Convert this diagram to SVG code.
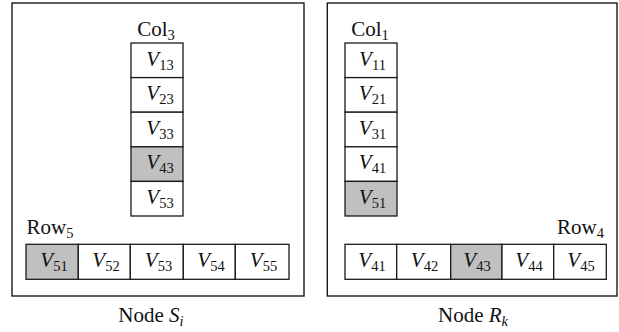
<svg xmlns="http://www.w3.org/2000/svg" width="619" height="332" viewBox="0 0 619 332" font-family="Liberation Serif, DejaVu Serif, serif">
  <style>
    .frame { fill: #fff; stroke: #1a1a1a; stroke-width: 1.4; }
    .cell { fill: #fff; stroke: #1a1a1a; stroke-width: 1.3; }
    .hit { fill: #c0c0c0; }
    .t { font-family: 'Liberation Serif', 'DejaVu Serif', serif; font-size: 21px; fill: #111; }
    .c { text-anchor: middle; }
    .e { text-anchor: end; }
    .v { font-style: italic; }
    .s { font-size: 14.5px; }
  </style>
  <rect width="619" height="332" fill="#fff"/>

  <!-- Node S_i -->
  <g id="node-s">
    <rect class="frame" x="12" y="3" width="292" height="293"/>
    <text class="t c" x="156" y="35.5">Col<tspan class="s" dy="4">3</tspan></text>
    <g id="s-col">
      <rect class="cell" x="131" y="43" width="52" height="34.6"/>
      <rect class="cell" x="131" y="77.6" width="52" height="34.6"/>
      <rect class="cell" x="131" y="112.2" width="52" height="34.6"/>
      <rect class="cell hit" x="131" y="146.8" width="52" height="34.6"/>
      <rect class="cell" x="131" y="181.4" width="52" height="34.6"/>
      <text class="t c" x="160" y="65.5"><tspan class="v">V</tspan><tspan class="s" dy="4">13</tspan></text>
      <text class="t c" x="160" y="100.1"><tspan class="v">V</tspan><tspan class="s" dy="4">23</tspan></text>
      <text class="t c" x="160" y="134.7"><tspan class="v">V</tspan><tspan class="s" dy="4">33</tspan></text>
      <text class="t c" x="160" y="169.3"><tspan class="v">V</tspan><tspan class="s" dy="4">43</tspan></text>
      <text class="t c" x="160" y="203.9"><tspan class="v">V</tspan><tspan class="s" dy="4">53</tspan></text>
    </g>
    <text class="t" x="26.5" y="234">Row<tspan class="s" dy="4">5</tspan></text>
    <g id="s-row">
      <rect class="cell hit" x="26" y="244.3" width="52.3" height="35"/>
      <rect class="cell" x="78.3" y="244.3" width="52" height="35"/>
      <rect class="cell" x="130.3" y="244.3" width="53" height="35"/>
      <rect class="cell" x="183.3" y="244.3" width="52" height="35"/>
      <rect class="cell" x="235.3" y="244.3" width="53.7" height="35"/>
      <text class="t c" x="54" y="267.3"><tspan class="v">V</tspan><tspan class="s" dy="4">51</tspan></text>
      <text class="t c" x="106" y="267.3"><tspan class="v">V</tspan><tspan class="s" dy="4">52</tspan></text>
      <text class="t c" x="158.5" y="267.3"><tspan class="v">V</tspan><tspan class="s" dy="4">53</tspan></text>
      <text class="t c" x="211" y="267.3"><tspan class="v">V</tspan><tspan class="s" dy="4">54</tspan></text>
      <text class="t c" x="263.5" y="267.3"><tspan class="v">V</tspan><tspan class="s" dy="4">55</tspan></text>
    </g>
    <text class="t c" x="151" y="321.7">Node <tspan class="v">S</tspan><tspan class="s v" dy="4">i</tspan></text>
  </g>

  <!-- Node R_k -->
  <g id="node-r">
    <rect class="frame" x="327.3" y="3" width="289.7" height="293"/>
    <text class="t c" x="370" y="35.5">Col<tspan class="s" dy="4">1</tspan></text>
    <g id="r-col">
      <rect class="cell" x="345" y="43" width="52" height="34.6"/>
      <rect class="cell" x="345" y="77.6" width="52" height="34.6"/>
      <rect class="cell" x="345" y="112.2" width="52" height="34.6"/>
      <rect class="cell" x="345" y="146.8" width="52" height="34.6"/>
      <rect class="cell hit" x="345" y="181.4" width="52" height="34.6"/>
      <text class="t c" x="372.5" y="65.5"><tspan class="v">V</tspan><tspan class="s" dy="4">11</tspan></text>
      <text class="t c" x="372.5" y="100.1"><tspan class="v">V</tspan><tspan class="s" dy="4">21</tspan></text>
      <text class="t c" x="372.5" y="134.7"><tspan class="v">V</tspan><tspan class="s" dy="4">31</tspan></text>
      <text class="t c" x="372.5" y="169.3"><tspan class="v">V</tspan><tspan class="s" dy="4">41</tspan></text>
      <text class="t c" x="372.5" y="203.9"><tspan class="v">V</tspan><tspan class="s" dy="4">51</tspan></text>
    </g>
    <text class="t e" x="604" y="234">Row<tspan class="s" dy="4">4</tspan></text>
    <g id="r-row">
      <rect class="cell" x="345" y="244.3" width="51.7" height="35"/>
      <rect class="cell" x="396.7" y="244.3" width="54" height="35"/>
      <rect class="cell hit" x="450.7" y="244.3" width="51.3" height="35"/>
      <rect class="cell" x="502" y="244.3" width="51.7" height="35"/>
      <rect class="cell" x="553.7" y="244.3" width="52.6" height="35"/>
      <text class="t c" x="372" y="267.3"><tspan class="v">V</tspan><tspan class="s" dy="4">41</tspan></text>
      <text class="t c" x="424.5" y="267.3"><tspan class="v">V</tspan><tspan class="s" dy="4">42</tspan></text>
      <text class="t c" x="477" y="267.3"><tspan class="v">V</tspan><tspan class="s" dy="4">43</tspan></text>
      <text class="t c" x="529" y="267.3"><tspan class="v">V</tspan><tspan class="s" dy="4">44</tspan></text>
      <text class="t c" x="581" y="267.3"><tspan class="v">V</tspan><tspan class="s" dy="4">45</tspan></text>
    </g>
    <text class="t c" x="473" y="321.7">Node <tspan class="v">R</tspan><tspan class="s v" dy="4">k</tspan></text>
  </g>
</svg>
